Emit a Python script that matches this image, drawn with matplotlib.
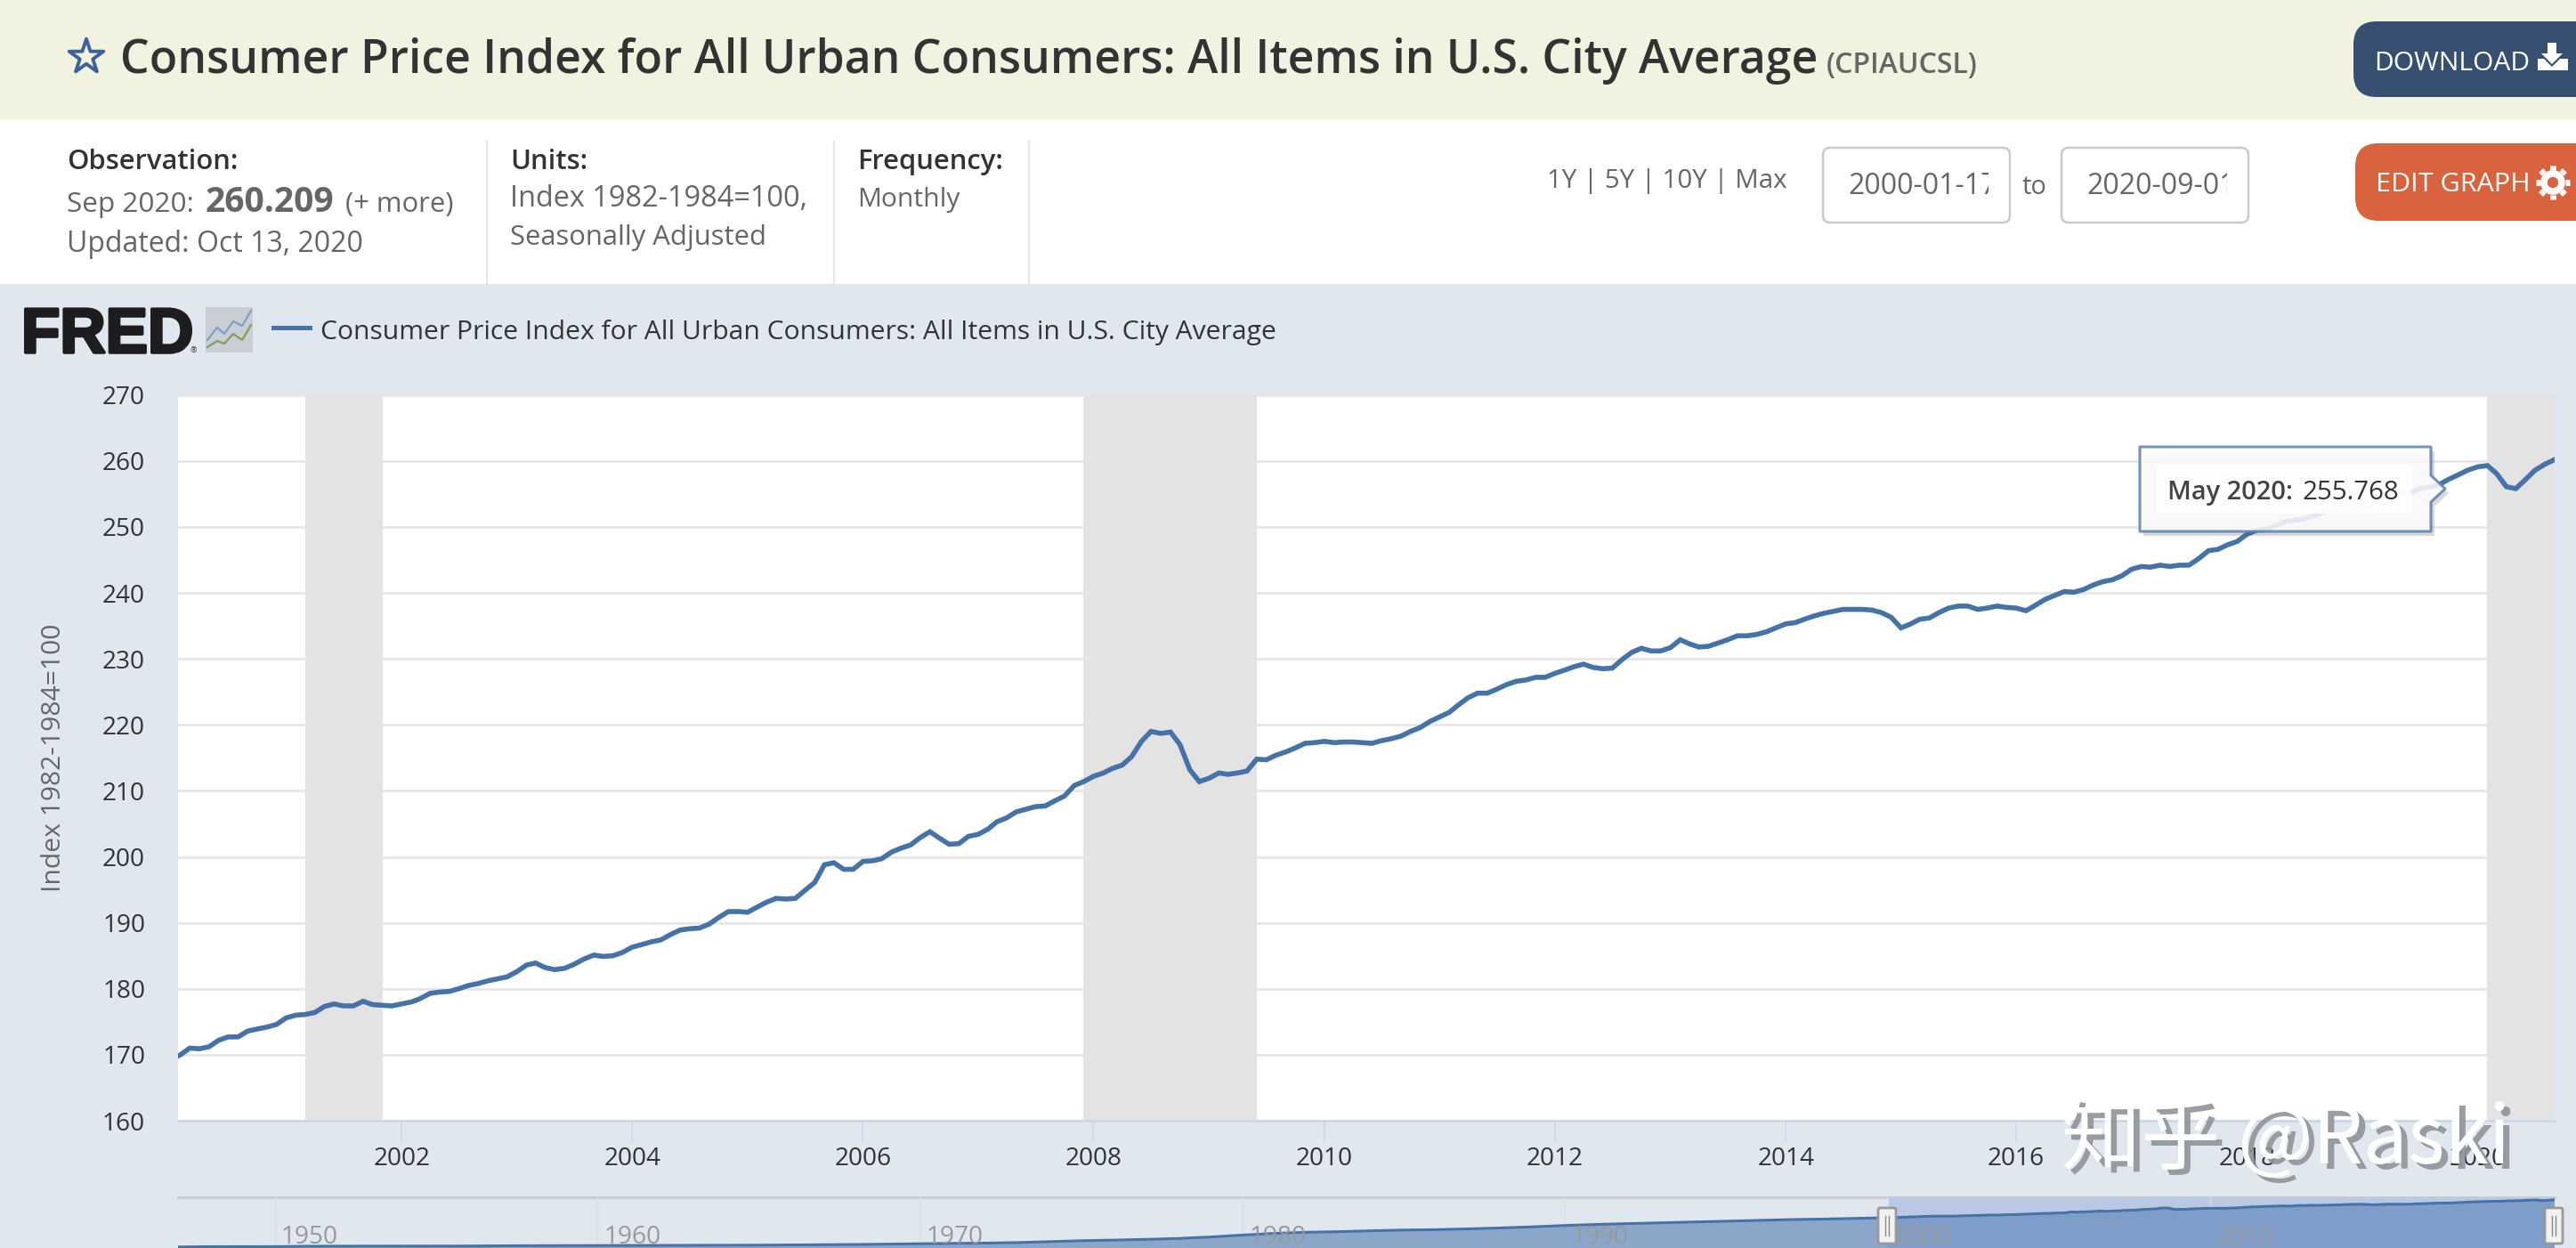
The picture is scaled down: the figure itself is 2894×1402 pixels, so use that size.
import numpy as np
import pandas as pd
from matplotlib import pyplot as plt
from matplotlib import patheffects as pe
from matplotlib.patches import Rectangle, FancyBboxPatch, Polygon, Circle

W, H = 2894, 1402

# CPIAUCSL, monthly, Jan 2000 .. Sep 2020
cpi_values = [
    169.3, 170.0, 171.0, 170.9, 171.2, 172.2, 172.7, 172.7, 173.6, 173.9, 174.2, 174.6,
    175.6, 176.0, 176.1, 176.4, 177.3, 177.7, 177.4, 177.4, 178.1, 177.6, 177.5, 177.4,
    177.7, 178.0, 178.5, 179.3, 179.5, 179.6, 180.0, 180.5, 180.8, 181.2, 181.5, 181.8,
    182.6, 183.6, 183.9, 183.2, 182.9, 183.1, 183.7, 184.5, 185.1, 184.9, 185.0, 185.5,
    186.3, 186.7, 187.1, 187.4, 188.2, 188.9, 189.1, 189.2, 189.8, 190.8, 191.7, 191.7,
    191.6, 192.4, 193.1, 193.7, 193.6, 193.7, 194.9, 196.1, 198.8, 199.1, 198.1, 198.1,
    199.3, 199.4, 199.7, 200.7, 201.3, 201.8, 202.9, 203.8, 202.8, 201.9, 202.0, 203.1,
    203.4, 204.2, 205.3, 205.9, 206.8, 207.2, 207.6, 207.7, 208.5, 209.2, 210.8, 211.4,
    212.2, 212.7, 213.4, 213.9, 215.2, 217.5, 219.0, 218.7, 218.9, 217.0, 213.2, 211.4,
    211.9, 212.7, 212.5, 212.7, 213.0, 214.8, 214.7, 215.4, 215.9, 216.5, 217.2, 217.3,
    217.5, 217.3, 217.4, 217.4, 217.3, 217.2, 217.6, 217.9, 218.3, 219.0, 219.6, 220.5,
    221.2, 221.9, 223.0, 224.1, 224.8, 224.8, 225.4, 226.1, 226.6, 226.8, 227.2, 227.2,
    227.8, 228.3, 228.8, 229.2, 228.7, 228.5, 228.6, 229.9, 231.0, 231.6, 231.2, 231.2,
    231.7, 232.9, 232.3, 231.8, 231.9, 232.4, 232.9, 233.5, 233.5, 233.7, 234.1, 234.7,
    235.3, 235.5, 236.0, 236.5, 236.9, 237.2, 237.5, 237.5, 237.5, 237.4, 237.0, 236.3,
    234.7, 235.3, 236.0, 236.2, 237.0, 237.7, 238.0, 238.0, 237.5, 237.7, 238.0, 237.8,
    237.7, 237.3, 238.1, 239.0, 239.6, 240.2, 240.1, 240.5, 241.2, 241.7, 242.0, 242.6,
    243.6, 244.0, 243.9, 244.2, 244.0, 244.2, 244.2, 245.2, 246.4, 246.6, 247.3, 247.8,
    248.9, 249.5, 249.6, 250.2, 250.8, 251.0, 251.2, 251.7, 252.2, 252.8, 252.6, 252.8,
    252.6, 253.3, 254.3, 255.2, 255.3, 255.2, 255.8, 256.0, 256.4, 257.2, 257.9, 258.6,
    259.1, 259.3, 258.1, 256.1, 255.8, 257.2, 258.6, 259.5, 260.2,
]
cpi_dates = pd.date_range('2000-01-01', periods=len(cpi_values), freq='MS')

# recession bands
rec_start = ['2001-03-01', '2007-12-01', '2020-02-01']
rec_end = ['2001-11-01', '2009-06-01', '2020-09-01']

# navigator, yearly before 2000
nav_years = list(range(1947, 2000))
nav_values = [
    22.3, 24.0, 23.8, 24.1, 26.0, 26.6, 26.8, 26.9, 26.8, 27.2, 28.1, 28.9, 29.2,
    29.6, 29.9, 30.3, 30.6, 31.0, 31.5, 32.5, 33.4, 34.8, 36.7, 38.8, 40.5, 41.8,
    44.4, 49.3, 53.8, 56.9, 60.6, 65.2, 72.6, 82.4, 90.9, 96.5, 99.6, 103.9, 107.6,
    109.6, 113.6, 118.3, 124.0, 130.7, 136.2, 140.3, 144.5, 148.2, 152.4, 156.9,
    160.5, 163.0, 166.6,
]

y_ticks = list(range(160, 280, 10))
x_ticks = list(range(2002, 2022, 2))
nav_ticks = list(range(1950, 2020, 10))

title = 'Consumer Price Index for All Urban Consumers: All Items in U.S. City Average'

FONT = ['Open Sans', 'DejaVu Sans']
LINE = '#4572a7'
BG = '#e0e7ef'
DARK = '#333333'
GREY = '#666666'


def px(v):
    # pixel size to points at dpi 100
    return v * 0.72


def axes_px(x0, y0, x1, y1, **kw):
    return fig.add_axes([x0 / W, (H - y1) / H, (x1 - x0) / W, (y1 - y0) / H], **kw)


fig = plt.figure(figsize=(W / 100, H / 100), dpi=100, facecolor='white')

# page in pixel coordinates
page = axes_px(0, 0, W, H, zorder=0)
page.set_xlim(0, W)
page.set_ylim(H, 0)
page.axis('off')


def label(ax, x, y, s, size, color=DARK, weight='normal', ha='left', **kw):
    return ax.text(x, y, s, fontsize=px(size), color=color, fontweight=weight, ha=ha,
                   va='baseline', family=FONT, **kw)


page.add_patch(Rectangle((0, 0), W, 134, fc='#f1f2df', ec='none'))
page.add_patch(Rectangle((0, 319), W, H - 319, fc=BG, ec='none'))

page.scatter([97], [64], s=850, marker='*', fc='none', ec='#3d6299', lw=2.8)
label(page, 135, 82, title, 51.6, weight='semibold')
label(page, 2052, 82, '(CPIAUCSL)', 32, color=GREY, weight='semibold')

for xs in [547, 937, 1156]:
    page.plot([xs, xs], [159, 319], color=BG, lw=1.5)

label(page, 75, 190, 'Observation:', 31, weight='semibold')
label(page, 75, 238, 'Sep 2020:', 31.5, color=GREY)
label(page, 231, 238, '260.209', 39, color=GREY, weight='bold')
label(page, 388, 238, '(+ more)', 31, color=GREY)
label(page, 75, 283, 'Updated: Oct 13, 2020', 32, color=GREY)
label(page, 573, 190, 'Units:', 31, weight='semibold')
label(page, 573, 232, 'Index 1982-1984=100,', 32.5, color=GREY)
label(page, 573, 275, 'Seasonally Adjusted', 31, color=GREY)
label(page, 963, 190, 'Frequency:', 31, weight='semibold')
label(page, 963, 232, 'Monthly', 30, color=GREY)

label(page, 1738, 211, '1Y | 5Y | 10Y | Max', 29.5, color=GREY)
label(page, 2272, 218, 'to', 29, color=GREY)
for x0, x1, val in [(2048, 2258, '2000-01-17'), (2316, 2526, '2020-09-01')]:
    box = FancyBboxPatch((x0 + 4, 170), x1 - x0 - 8, 76, boxstyle='round,pad=4,rounding_size=8',
                         fc='white', ec='#c8cacc', lw=1.8)
    page.add_patch(box)
    t = label(page, x0 + 28, 218, val, 32, color=GREY)
    t.set_clip_path(Rectangle((x0 + 4, 170), x1 - x0 - 28, 76, transform=page.transData))
    t.set_clip_on(True)

# buttons
page.add_patch(FancyBboxPatch((2664, 44), 300, 45, boxstyle='round,pad=20,rounding_size=26',
                              fc='#375072', ec='none'))
page.add_patch(FancyBboxPatch((2666, 181), 300, 47, boxstyle='round,pad=20,rounding_size=26',
                              fc='#d9633f', ec='none'))
label(page, 2667, 79, 'DOWNLOAD', 30, color='white')
label(page, 2669, 215, 'EDIT GRAPH', 30.5, color='white')
page.add_patch(Polygon([(2862, 48), (2872, 48), (2872, 60), (2879, 60), (2867, 72), (2855, 60), (2862, 60)],
                       fc='white', ec='none'))
page.add_patch(Polygon([(2851, 66), (2858, 66), (2867, 75), (2876, 66), (2885, 66), (2885, 79), (2851, 79)],
                       fc='white', ec='none'))
page.add_patch(Circle((2868, 205), 10, fc='none', ec='white', lw=5.5))
for a in np.arange(8) * np.pi / 4:
    page.plot([2868 + 14 * np.cos(a), 2868 + 19 * np.cos(a)], [205 + 14 * np.sin(a), 205 + 19 * np.sin(a)],
              color='white', lw=5, solid_capstyle='butt')

# logo and legend
page.text(24, 396, 'FRED', fontsize=px(71), fontweight='bold', family='Liberation Sans', color='#1d1d1f',
          va='baseline', path_effects=[pe.withStroke(linewidth=2.5, foreground='#1d1d1f')])
page.text(214, 396, '®', fontsize=px(9), color='#333333', family=FONT, va='baseline')
page.add_patch(Rectangle((231, 345), 53, 51, fc='#c9ced2', ec='none'))
page.plot([233, 244, 252, 262, 272, 282], [382, 368, 375, 361, 366, 349], color='#7f9ec4', lw=1.6)
page.plot([233, 244, 252, 262, 272, 282], [390, 383, 386, 375, 382, 365], color='#7ea05c', lw=1.6)
page.plot([307, 348], [368, 368], color=LINE, lw=px(5))
label(page, 360, 381, title, 30, color=DARK)

# main chart
ax = axes_px(200, 443.7, 2870, 1259, zorder=1)
ax.set_facecolor('white')
ax.set_xlim(pd.Timestamp('2000-01-24'), pd.Timestamp('2020-09-01'))
ax.set_ylim(160, 270)
ax.set_yticks(y_ticks)
ax.grid(axis='y', color='#e6e6e6', lw=px(2.6), zorder=0)
ax.set_axisbelow(True)
for s, e in zip(rec_start, rec_end):
    ax.axvspan(pd.Timestamp(s), pd.Timestamp(e), fc='#e3e3e3', ec='none', zorder=1)
ax.plot(cpi_dates, cpi_values, color=LINE, lw=px(5.6), zorder=2, solid_joinstyle='miter')
for side in ['top', 'left', 'right']:
    ax.spines[side].set_visible(False)
ax.spines['bottom'].set_color('#ccd6eb')
ax.spines['bottom'].set_linewidth(px(2.6))
ax.set_xticks([pd.Timestamp(str(y) + '-01-01') for y in x_ticks])
ax.set_xticklabels([str(y) for y in x_ticks])
ax.tick_params(axis='x', length=px(24), width=px(1.5), color='#ccd6eb', pad=px(5), labelsize=px(28),
               labelcolor=DARK)
ax.tick_params(axis='y', length=0, pad=px(37), labelsize=px(28), labelcolor=DARK)
for t in ax.get_xticklabels() + ax.get_yticklabels():
    t.set_family(FONT)
page.text(61, 851, 'Index 1982-1984=100', fontsize=px(30), color=GREY, family=FONT, rotation=90,
          ha='center', va='center')

# navigator
nav = axes_px(200, 1345, 2870, H, zorder=1)
nav.set_xlim(1947, 2020.67)
nav.set_ylim(17, 273)
nav.axis('off')
nav_x = np.array(nav_years + list(2000 + np.arange(len(cpi_values)) / 12))
nav_y = np.array(nav_values + cpi_values)
nav.fill_between(nav_x, nav_y, 17, fc='#8aa6c8', ec='none', zorder=1)
sel = nav_x >= 2000
nav.axvspan(2000, 2020.67, fc='#b9c9e4', ec='none', zorder=0)
nav.fill_between(nav_x[sel], nav_y[sel], 17, fc='#7f9dc9', ec='none', zorder=1)
nav.plot(nav_x, nav_y, color=LINE, lw=px(3), zorder=2)
for y in nav_ticks:
    nav.plot([y, y], [17, 273], color='#d8dfe8', lw=1, zorder=0.5)
    nav.text(y + 0.2, 39, str(y), fontsize=px(28), color='#999999', family=FONT, va='baseline', zorder=3)
page.plot([200, 2870], [1345, 1345], color='#cccccc', lw=px(3))

# everything that sits above the charts
top = axes_px(0, 0, W, H, zorder=2)
top.set_xlim(0, W)
top.set_ylim(H, 0)
top.axis('off')
top.patch.set_alpha(0)

for hx in [2120, 2869]:
    top.add_patch(FancyBboxPatch((hx - 8, 1359), 16, 36, boxstyle='round,pad=2,rounding_size=2',
                                 fc='#f2f2f2', ec='#999999', lw=2))
    top.plot([hx - 2, hx - 2], [1366, 1388], color='#888888', lw=1)
    top.plot([hx + 2, hx + 2], [1366, 1388], color='#888888', lw=1)

tip_pts = [(2404, 502), (2731, 502), (2731, 534), (2747, 549), (2731, 564), (2731, 597), (2404, 597)]
top.add_patch(Polygon([(x + 4, y + 5) for x, y in tip_pts], fc='#555555', ec='none', alpha=0.22))
top.add_patch(Polygon(tip_pts, fc='white', ec='#5b82b0', lw=2.2, alpha=0.86, joinstyle='round'))
top.add_patch(Rectangle((2423, 522), 286, 55, fc='white', ec='none', alpha=0.85))
label(top, 2435, 561, 'May 2020:', 29, color='#444444', weight='semibold')
label(top, 2586, 561, '255.768', 29.5, color=DARK)

# watermark
wm_font = ['Noto Sans CJK SC', 'DejaVu Sans']
top.text(2323, 1313, '知乎 @Raski', fontsize=px(89), color='#8f9499', alpha=0.9, family=wm_font, va='baseline')
top.text(2316, 1307, '知乎 @Raski', fontsize=px(89), color='white', family=wm_font, va='baseline')

fig.savefig('out.png', dpi=100, facecolor='white')
